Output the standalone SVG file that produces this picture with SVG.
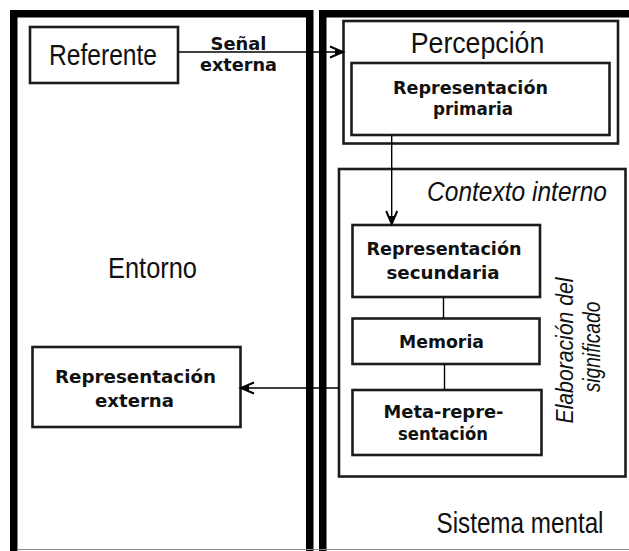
<svg xmlns="http://www.w3.org/2000/svg" width="629" height="551" viewBox="0 0 629 551">
<defs>
<style>
.frame{fill:none;stroke:#000;stroke-width:7.5}
.box{fill:#fff;stroke:#1c1c1c;stroke-width:2.6}
.conn{fill:none;stroke:#000;stroke-width:1.4}
.lbl{font-family:"DejaVu Sans",Verdana,sans-serif;font-weight:bold;font-size:18px;fill:#111;text-anchor:middle}
.big{font-family:"Liberation Sans",Arial,sans-serif;font-size:30px;fill:#111;text-anchor:middle}
.ital{font-family:"Liberation Sans",Arial,sans-serif;font-style:italic;fill:#111;text-anchor:middle}
</style>
<marker id="arr" markerUnits="userSpaceOnUse" markerWidth="18" markerHeight="14" refX="15" refY="7" orient="auto">
<path d="M2,1.5 L15,7 L2,12.5" fill="none" stroke="#000" stroke-width="2"/>
<path d="M7,4.5 L15,7 L7,9.5 Z" fill="#000"/>
</marker>
</defs>
<rect width="629" height="551" fill="#fff"/>

<g id="entorno">
<path class="frame" d="M13.75,560 V13.75 H309.75 V560"/>
<text class="big" transform="translate(152.5,278) scale(0.847,1)">Entorno</text>
</g>
<g id="sistema-mental">
<path class="frame" d="M322.75,560 V13.75 H640"/>
<text class="big" transform="translate(520,533) scale(0.808,1)">Sistema mental</text>
</g>
<line x1="17" y1="549.5" x2="629" y2="549.5" stroke="#888" stroke-width="1"/>

<g id="referente">
<rect class="box" x="30" y="27" width="148" height="56"/>
<text class="big" transform="translate(103,65) scale(0.82,1)">Referente</text>
</g>

<g id="percepcion">
<rect class="box" x="343.5" y="21" width="274.5" height="122.5"/>
<text class="big" font-size="28" transform="translate(477.5,53) scale(0.89,1)">Percepción</text>
</g>
<g id="rep-primaria">
<rect class="box" x="351.5" y="63" width="258" height="72"/>
<text class="lbl" x="470.5" y="94" textLength="155" lengthAdjust="spacingAndGlyphs">Representación</text>
<text class="lbl" x="473" y="114.5" textLength="80" lengthAdjust="spacingAndGlyphs">primaria</text>
</g>

<g id="contexto-interno">
<rect class="box" x="339" y="169" width="286.5" height="307.5"/>
<text class="ital" font-size="28" transform="translate(517,200.5) scale(0.876,1)">Contexto interno</text>
<text class="ital" font-size="24" transform="translate(573,350.5) rotate(-90) scale(0.883,1)">Elaboración del</text>
<text class="ital" font-size="24" transform="translate(599.5,347) rotate(-90) scale(0.8,1)">significado</text>
</g>
<g id="rep-secundaria">
<rect class="box" x="352.5" y="225" width="187.5" height="72"/>
<text class="lbl" x="444" y="255" textLength="155" lengthAdjust="spacingAndGlyphs">Representación</text>
<text class="lbl" x="443" y="279" textLength="113" lengthAdjust="spacingAndGlyphs">secundaria</text>
</g>
<g id="memoria">
<rect class="box" x="352.5" y="318.5" width="187" height="45.5"/>
<text class="lbl" x="441.5" y="348" textLength="85" lengthAdjust="spacingAndGlyphs">Memoria</text>
</g>
<g id="meta-representacion">
<rect class="box" x="352.5" y="390" width="189" height="65"/>
<text class="lbl" x="443.5" y="418" textLength="120" lengthAdjust="spacingAndGlyphs">Meta-repre-</text>
<text class="lbl" x="443" y="440" textLength="90" lengthAdjust="spacingAndGlyphs">sentación</text>
</g>

<g id="rep-externa">
<rect class="box" x="32.5" y="347" width="208" height="80"/>
<text class="lbl" x="135.5" y="383" textLength="161" lengthAdjust="spacingAndGlyphs">Representación</text>
<text class="lbl" x="134.5" y="407" textLength="79" lengthAdjust="spacingAndGlyphs">externa</text>
</g>

<g id="connectors">
<line class="conn" x1="178" y1="52" x2="343" y2="52" marker-end="url(#arr)"/>
<text class="lbl" x="238.5" y="50" font-size="17" textLength="56" lengthAdjust="spacingAndGlyphs">Señal</text>
<text class="lbl" x="238.5" y="71" font-size="17" textLength="77" lengthAdjust="spacingAndGlyphs">externa</text>
<line class="conn" x1="391.7" y1="135" x2="391.7" y2="224" marker-end="url(#arr)"/>
<line class="conn" x1="443.5" y1="297" x2="443.5" y2="318.5"/>
<line class="conn" x1="444.5" y1="364" x2="444.5" y2="390"/>
<line class="conn" x1="339" y1="388" x2="241" y2="388" marker-end="url(#arr)"/>
</g>
</svg>
